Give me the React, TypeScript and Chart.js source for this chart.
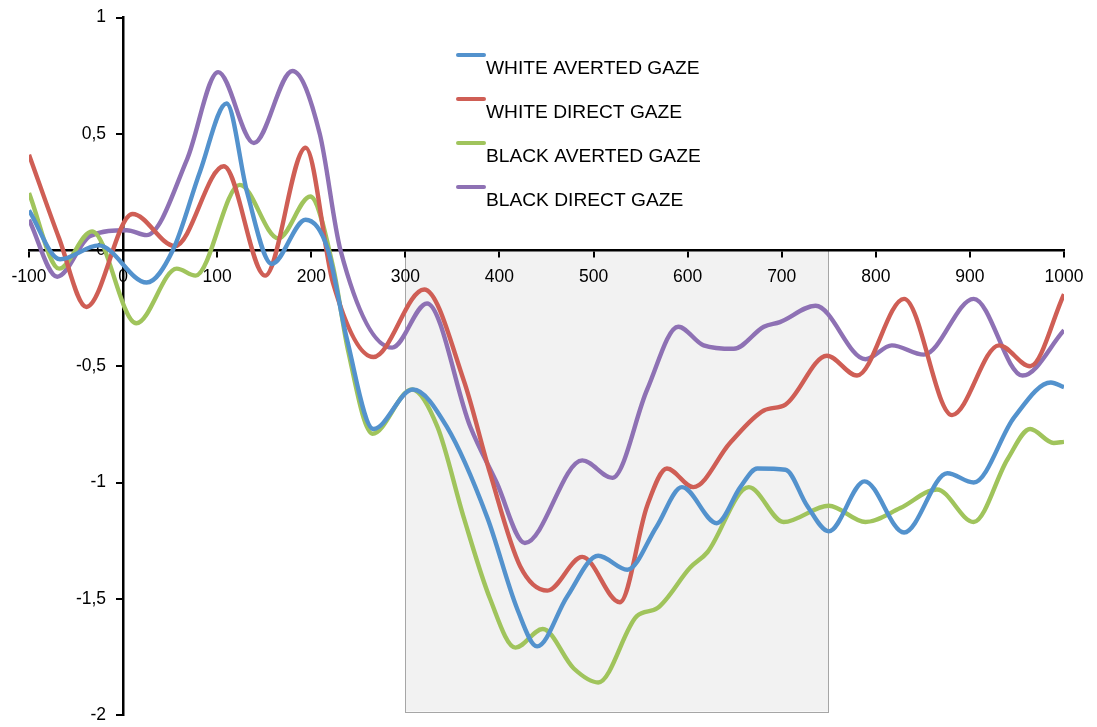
import React, { useEffect, useRef } from "react";
import { Chart, registerables } from "chart.js";

Chart.register(...registerables);

// ---- data ----
const SERIES_NAMES = [
  "WHITE AVERTED GAZE",
  "WHITE DIRECT GAZE",
  "BLACK AVERTED GAZE",
  "BLACK DIRECT GAZE",
];
const SERIES_COLORS = ["#5392cd", "#cf5e55", "#a0c45c", "#8e71b4"];

const WHITE_AVERTED_X = [-100, -67, -26, 25, 53, 82, 110, 132, 158, 194, 217, 238, 266, 308, 344, 387, 419, 440, 472, 505, 536, 567, 594, 631, 656, 674, 704, 727, 750, 788, 830, 876, 904, 947, 986, 1000];
const WHITE_AVERTED_Y = [0.17, -0.04, 0.02, -0.14, 0.0, 0.34, 0.63, 0.245, -0.06, 0.13, 0.01, -0.385, -0.77, -0.6, -0.76, -1.15, -1.545, -1.705, -1.49, -1.315, -1.375, -1.19, -1.02, -1.175, -1.02, -0.94, -0.945, -1.1, -1.21, -0.995, -1.215, -0.96, -1.0, -0.72, -0.57, -0.59];

const WHITE_DIRECT_X = [-100, -68, -39, 10, 55, 107, 151, 194, 223, 266, 320, 362, 390, 422, 451, 488, 528, 557, 578, 606, 645, 681, 704, 748, 780, 830, 881, 931, 964, 1000];
const WHITE_DIRECT_Y = [0.41, 0.05, -0.245, 0.155, 0.017, 0.36, -0.11, 0.44, -0.14, -0.46, -0.17, -0.56, -0.96, -1.36, -1.465, -1.32, -1.515, -1.1, -0.94, -1.02, -0.83, -0.69, -0.665, -0.455, -0.54, -0.21, -0.71, -0.41, -0.5, -0.19];

const BLACK_AVERTED_X = [-100, -68, -33, 14, 57, 77, 124, 165, 199, 223, 239, 265, 307, 334, 362, 390, 417, 446, 479, 505, 546, 568, 603, 621, 665, 702, 750, 789, 826, 865, 904, 940, 964, 989, 1000];
const BLACK_AVERTED_Y = [0.245, -0.08, 0.08, -0.315, -0.08, -0.11, 0.28, 0.05, 0.23, -0.07, -0.43, -0.79, -0.6, -0.76, -1.15, -1.5, -1.71, -1.63, -1.8, -1.86, -1.575, -1.54, -1.365, -1.3, -1.02, -1.17, -1.1, -1.17, -1.11, -1.03, -1.17, -0.9, -0.77, -0.83, -0.825];

const BLACK_DIRECT_X = [-100, -70, -35, 4, 25, 68, 101, 139, 180, 209, 231, 286, 323, 369, 397, 427, 488, 520, 557, 590, 617, 649, 681, 698, 736, 789, 817, 851, 904, 956, 1000];
const BLACK_DIRECT_Y = [0.13, -0.115, 0.06, 0.085, 0.064, 0.39, 0.765, 0.46, 0.77, 0.5, 0.0, -0.42, -0.23, -0.76, -1.0, -1.26, -0.905, -0.98, -0.6, -0.33, -0.41, -0.425, -0.33, -0.31, -0.24, -0.47, -0.41, -0.45, -0.21, -0.54, -0.345];

const X_MIN = -100;
const X_MAX = 1000;
const X_STEP = 100;
const Y_MIN = -2;
const Y_MAX = 1;
const Y_STEP = 0.5;

// highlighted analysis window
const WINDOW_X = [300, 750];
const WINDOW_Y = [0, -1.985];

const FONT = "'Liberation Sans', Arial, sans-serif";
const Y_LABEL_GAP = 17;

function pts(xs: number[], ys: number[]) {
  return xs.map((x, i) => ({ x, y: ys[i] }));
}

const windowPlugin = {
  id: "windowBox",
  beforeDraw(chart: any) {
    const { ctx, scales } = chart;
    const x0 = scales.x.getPixelForValue(WINDOW_X[0]);
    const x1 = scales.x.getPixelForValue(WINDOW_X[1]);
    const y0 = scales.y.getPixelForValue(WINDOW_Y[0]);
    const y1 = scales.y.getPixelForValue(WINDOW_Y[1]);
    ctx.save();
    ctx.fillStyle = "#f2f2f2";
    ctx.fillRect(x0, y0, x1 - x0, y1 - y0);
    ctx.strokeStyle = "#a6a6a6";
    ctx.lineWidth = 1;
    ctx.strokeRect(Math.round(x0) + 0.5, Math.round(y0) + 0.5, Math.round(x1 - x0), Math.round(y1 - y0));
    ctx.restore();
  },
};

// y axis sits at x = 0: move its labels to the left of the tick marks
const yLabelShiftPlugin = {
  id: "yLabelShift",
  beforeDraw(chart: any) {
    const s = chart.scales.y;
    const items = s.getLabelItems();
    if ((items as any).__shifted) return;
    items.forEach((it: any) => {
      it.options.translation[0] -= Y_LABEL_GAP;
    });
    (items as any).__shifted = true;
  },
};

const legendPlugin = {
  id: "customLegend",
  afterDraw(chart: any) {
    const { ctx } = chart;
    ctx.save();
    chart.data.datasets.forEach((ds: any, i: number) => {
      const ly = 55 + i * 44;
      ctx.strokeStyle = ds.borderColor;
      ctx.lineWidth = 4;
      ctx.lineCap = "round";
      ctx.beginPath();
      ctx.moveTo(458, ly);
      ctx.lineTo(484, ly);
      ctx.stroke();
      ctx.fillStyle = "#000";
      ctx.font = `19.2px ${FONT}`;
      ctx.textBaseline = "middle";
      ctx.textAlign = "left";
      ctx.fillText(ds.label, 486, ly + 14);
    });
    ctx.restore();
  },
};

export default function App() {
  const ref = useRef<HTMLCanvasElement | null>(null);

  useEffect(() => {
    if (!ref.current) return;
    const series = [
      pts(WHITE_AVERTED_X, WHITE_AVERTED_Y),
      pts(WHITE_DIRECT_X, WHITE_DIRECT_Y),
      pts(BLACK_AVERTED_X, BLACK_AVERTED_Y),
      pts(BLACK_DIRECT_X, BLACK_DIRECT_Y),
    ];
    const chart = new Chart(ref.current, {
      type: "line",
      data: {
        datasets: series.map((d, i) => ({
          label: SERIES_NAMES[i],
          data: d,
          borderColor: SERIES_COLORS[i],
          backgroundColor: SERIES_COLORS[i],
          borderWidth: 4.4,
          pointRadius: 0,
          cubicInterpolationMode: "monotone" as const,
          fill: false,
        })),
      },
      options: {
        animation: false,
        responsive: false,
        events: [],
        layout: { padding: { left: 29, right: 33, top: 17.5, bottom: 12 } },
        plugins: { legend: { display: false }, tooltip: { enabled: false } },
        scales: {
          x: {
            type: "linear",
            min: X_MIN,
            max: X_MAX,
            position: { y: 0 } as any,
            grid: { display: true, drawOnChartArea: false, drawTicks: true, tickLength: 6, color: "#000", lineWidth: 2 },
            border: { display: true, color: "#000", width: 2.5 },
            ticks: {
              stepSize: X_STEP,
              color: "#000",
              padding: 11,
              maxRotation: 0,
              font: { family: FONT, size: 17.5 },
              callback: (v: any) => String(v),
            },
          },
          y: {
            type: "linear",
            min: Y_MIN,
            max: Y_MAX,
            position: { x: 0 } as any,
            grid: { display: true, drawOnChartArea: false, drawTicks: true, tickLength: 6, color: "#000", lineWidth: 2 },
            border: { display: true, color: "#000", width: 2.5 },
            ticks: {
              stepSize: Y_STEP,
              color: "#000",
              padding: 0,
              font: { family: FONT, size: 17.5 },
              callback: (v: any) => String(v).replace(".", ","),
            },
          },
        },
      },
      plugins: [windowPlugin, yLabelShiftPlugin, legendPlugin],
    });
    return () => chart.destroy();
  }, []);

  return (
    <div style={{ position: "fixed", left: 0, top: 0, width: 1097, height: 727, background: "#fff" }}>
      <canvas ref={ref} width={1097} height={727} />
    </div>
  );
}
